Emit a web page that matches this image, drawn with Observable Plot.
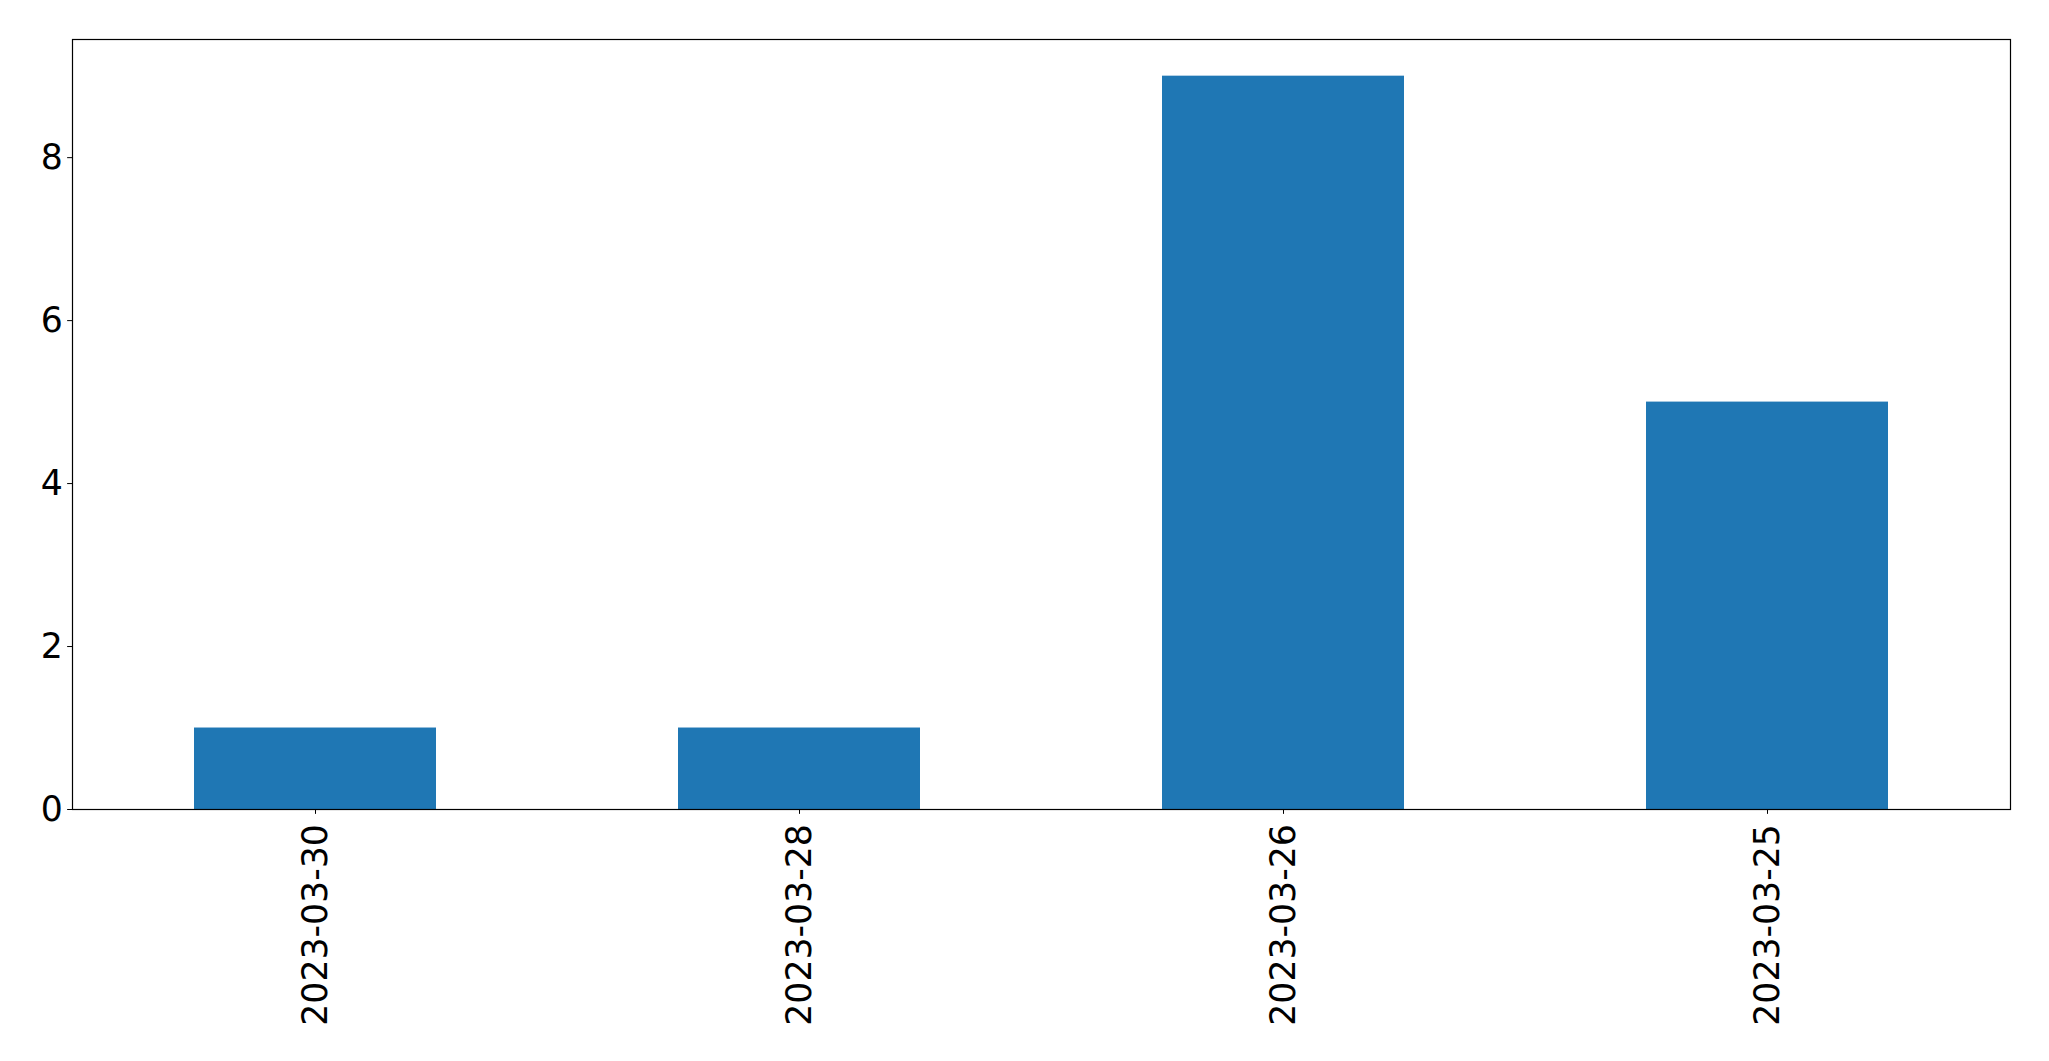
<!DOCTYPE html>
<html>
<head>
<meta charset="utf-8">
<script src="https://cdn.jsdelivr.net/npm/d3@7"></script>
<script src="https://cdn.jsdelivr.net/npm/@observablehq/plot@0.6"></script>
<style>
  html, body { margin: 0; padding: 0; background: #fff; }
  #chart svg { display: block; }
  #chart svg, #chart svg text { font-family: "DejaVu Sans", sans-serif !important; }
</style>
</head>
<body>
<div id="chart"></div>
<script>
const categories = ["2023-03-30", "2023-03-28", "2023-03-26", "2023-03-25"];
const counts = [1, 1, 9, 5];
const yTicks = [0, 2, 4, 6, 8];

const data = categories.map((c, i) => ({date: c, count: counts[i]}));

const chart = Plot.plot({
  width: 2049,
  height: 1061,
  marginLeft: 72,
  marginRight: 39,
  marginTop: 39,
  marginBottom: 252,
  style: {fontFamily: "'DejaVu Sans', sans-serif", fontSize: "34.7px", color: "#000", background: "#fff"},
  x: {domain: categories, type: "band", paddingInner: 0.5, paddingOuter: 0.25, label: null},
  y: {domain: [0, 9.45], label: null},
  marks: [
    Plot.barY(data, {x: "date", y: "count", fill: "#1f77b4"}),
    Plot.frame({stroke: "#000", strokeWidth: 1.2}),
    Plot.axisY({ticks: yTicks, tickSize: 4.86, tickPadding: 4.86, fontSize: 34.7, label: null, tickFormat: d => String(d)}),
    Plot.axisX({tickSize: 4.86, tickPadding: 9.8, tickRotate: -90, fontSize: 34.7, label: null})
  ]
});
document.getElementById("chart").appendChild(chart);
</script>
</body>
</html>
